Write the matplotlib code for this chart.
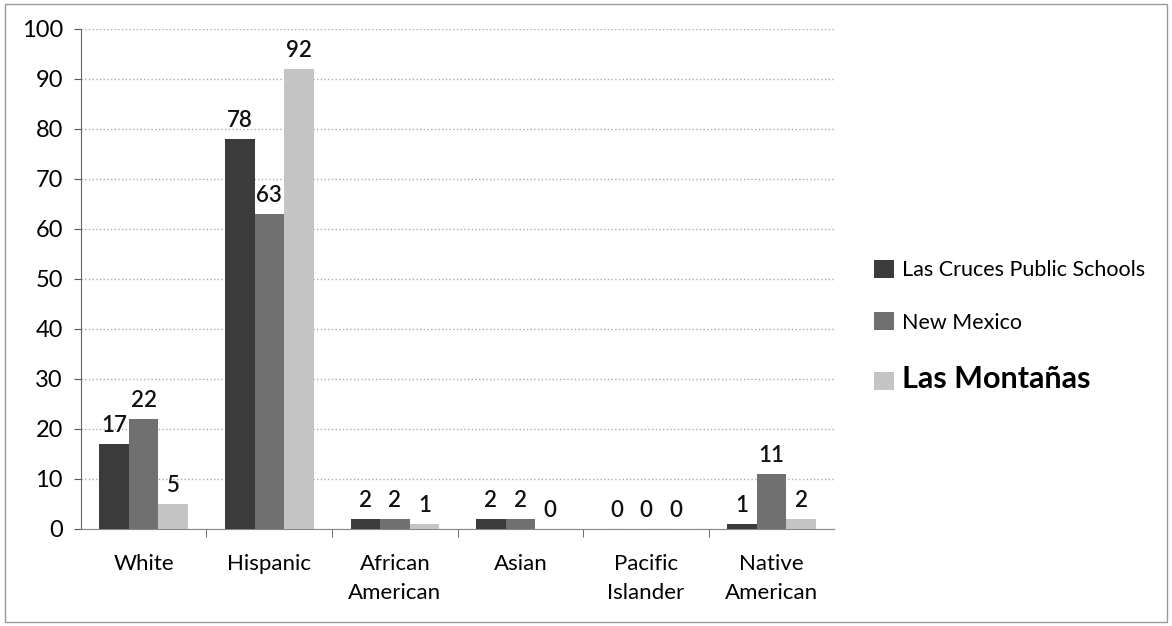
import numpy as np
import matplotlib.pyplot as plt

plt.rcParams['font.family'] = ['Lato', 'DejaVu Sans']

categories = ['White', 'Hispanic', 'African\nAmerican', 'Asian', 'Pacific\nIslander', 'Native\nAmerican']
series = ['Las Cruces Public Schools', 'New Mexico', 'Las Montañas']
las_cruces = [17, 78, 2, 2, 0, 1]
new_mexico = [22, 63, 2, 2, 0, 11]
las_montanas = [5, 92, 1, 0, 0, 2]
colors = ['#3b3b3b', '#707070', '#c4c4c4']

fig = plt.figure(figsize=(11.72, 6.26), dpi=100)
ax = fig.add_axes([0.069, 0.155, 0.643, 0.799])

x = np.arange(len(categories))
w = 0.235
for i, (vals, c) in enumerate(zip([las_cruces, new_mexico, las_montanas], colors)):
    pos = x + (i - 1) * w
    ax.bar(pos, vals, width=w, color=c, label=series[i], zorder=3)
    for xp, v in zip(pos, vals):
        ax.text(xp, v + 1.5, str(v), ha='center', va='bottom', fontsize=16,
                fontweight='semibold', color='#111111', zorder=4)

ax.set_ylim(0, 100)
ax.set_xlim(-0.5, len(categories) - 0.5)
ax.set_yticks(range(0, 101, 10))
ax.tick_params(axis='y', labelsize=17, length=5, color='#555555', pad=8)
ax.set_xticks(x)
ax.set_xticklabels(categories, fontsize=16, linespacing=1.55)
ax.set_xticks(np.arange(0.5, len(categories) - 0.5), minor=True)
ax.tick_params(axis='x', which='major', length=0, pad=18)
ax.tick_params(axis='x', which='minor', length=6, color='#555555')
ax.grid(axis='y', color='#aaaaaa', linestyle=':', linewidth=1, zorder=0)
for s in ['top', 'right']:
    ax.spines[s].set_visible(False)
ax.spines['left'].set_color('#666666')
ax.spines['bottom'].set_color('#888888')

leg = ax.legend(loc='center left', bbox_to_anchor=(1.027, 0.405), frameon=False,
                fontsize=15.5, handlelength=0.9, handleheight=0.9, labelspacing=1.5,
                handletextpad=0.4)
leg.get_texts()[2].set_fontsize(22)
leg.get_texts()[2].set_fontweight('bold')

# outer frame of the chart
fig.patches.append(plt.Rectangle((0.004, 0.006), 0.992, 0.988, transform=fig.transFigure,
                                 fill=False, edgecolor='#999999', linewidth=1))

fig.savefig('out.png', dpi=100)
